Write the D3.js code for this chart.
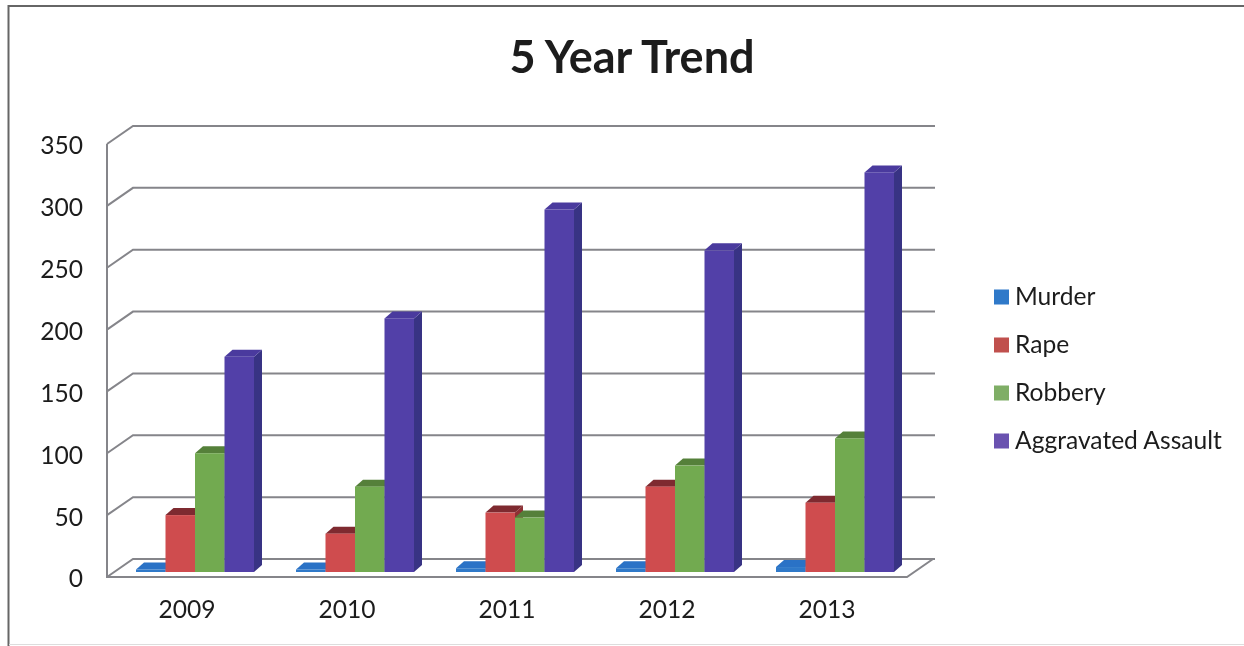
<!DOCTYPE html>
<html>
<head>
<meta charset="utf-8">
<script src="https://cdn.jsdelivr.net/npm/d3@7"></script>
<style>
  html, body { margin: 0; background: #fff; }
  svg { filter: blur(0.5px); }
  text { font-family: Lato, "Open Sans", sans-serif; fill: #1c1c1c; }
</style>
</head>
<body>
<svg id="chart" width="1244" height="646"></svg>
<script>
const years = ['2009', '2010', '2011', '2012', '2013'];
const seriesNames = ['Murder', 'Rape', 'Robbery', 'Aggravated Assault'];
const murder = [2, 2, 3, 3, 4];
const rape = [46, 31, 48, 69, 56];
const robbery = [96, 69, 44, 86, 108];
const assault = [174, 205, 293, 260, 323];
const seriesValues = [murder, rape, robbery, assault];
const yTicks = [0, 50, 100, 150, 200, 250, 300, 350];

const frontColors = ['#2f79c9', '#cf4c4e', '#72aa50', '#5240a8'];
const topColors = ['#2a72c6', '#7e2a30', '#55803a', '#4a3a9e'];
const sideColors = ['#1f5596', '#8f3034', '#4f7a38', '#383384'];

const svg = d3.select('#chart');

const left = 107, right = 907, front0 = 577, front350 = 144;
const dx = 26, dy = -18;      // wall depth
const barDx = 8, barDy = -7;  // bar depth
const barBase = 572;

const x = d3.scaleBand().domain(years).range([left, right]);
const xBar = d3.scaleBand().domain(seriesNames).range([29, 147]);
const y = d3.scaleLinear().domain([0, 350]).range([front0, front350]);
const barH = d3.scaleLinear().domain([0, 350]).range([0, front0 - front350]);

// outer frame
svg.append('path')
  .attr('d', 'M8.5,646V6H1244')
  .attr('fill', 'none')
  .attr('stroke', '#666')
  .attr('stroke-width', 2);
svg.append('path')
  .attr('d', 'M9,644.5H1244')
  .attr('fill', 'none')
  .attr('stroke', '#ddd')
  .attr('stroke-width', 1);

svg.append('text')
  .attr('x', 632).attr('y', 73)
  .attr('text-anchor', 'middle')
  .attr('font-size', 45)
  .attr('font-weight', 700)
  .text('5 Year Trend');

// walls and gridlines
const grid = svg.append('g').attr('fill', 'none').attr('stroke', '#85858a');
grid.selectAll('path.gridline')
  .data(yTicks)
  .join('path')
  .attr('class', 'gridline')
  .attr('stroke-width', 2)
  .attr('d', d => d3.line()([[left, y(d)], [left + dx, y(d) + dy], [right + dx + 2, y(d) + dy]]));

grid.append('path')
  .attr('stroke-width', 2)
  .attr('d', d3.line()([[left, y(350)], [left, y(0)], [right, y(0)], [right + dx, y(0) + dy]]));

// value axis labels
const yAxis = svg.append('g')
  .attr('transform', `translate(${left},2)`)
  .call(d3.axisLeft(y).tickValues(yTicks).tickSize(0).tickPadding(24));
yAxis.select('.domain').remove();
yAxis.selectAll('text').attr('font-size', 24.6).style('font-family', 'Lato, sans-serif').style('fill', '#1c1c1c');

// category axis labels
const xAxis = svg.append('g')
  .attr('transform', `translate(0,${front0})`)
  .call(d3.axisBottom(x).tickSize(0).tickPadding(24));
xAxis.select('.domain').remove();
xAxis.selectAll('text').attr('font-size', 24.6).style('font-family', 'Lato, sans-serif').style('fill', '#1c1c1c');

// bars, drawn series by series so the nearer faces overlap correctly
seriesNames.forEach((name, s) => {
  const g = svg.append('g').attr('class', 'series');
  const bw = xBar.bandwidth();
  const bx = i => x(years[i]) + xBar(name);
  const topY = v => barBase - barH(v);
  const cells = seriesValues[s].map((v, i) => ({ v, i }));

  g.selectAll('path.side').data(cells).join('path')
    .attr('class', 'side')
    .attr('fill', sideColors[s])
    .attr('d', d => d3.line()([
      [bx(d.i) + bw, topY(d.v)],
      [bx(d.i) + bw + barDx, topY(d.v) + barDy],
      [bx(d.i) + bw + barDx, barBase + barDy],
      [bx(d.i) + bw, barBase]
    ]) + 'Z');

  g.selectAll('path.top').data(cells).join('path')
    .attr('class', 'top')
    .attr('fill', topColors[s])
    .attr('d', d => d3.line()([
      [bx(d.i), topY(d.v)],
      [bx(d.i) + barDx, topY(d.v) + barDy],
      [bx(d.i) + bw + barDx, topY(d.v) + barDy],
      [bx(d.i) + bw, topY(d.v)]
    ]) + 'Z');

  g.selectAll('rect.front').data(cells).join('rect')
    .attr('class', 'front')
    .attr('fill', frontColors[s])
    .attr('x', d => bx(d.i))
    .attr('y', d => topY(d.v))
    .attr('width', bw)
    .attr('height', d => barH(d.v));
});

// legend
const legendY = d3.scalePoint().domain(seriesNames).range([297, 441]);
const legend = svg.append('g').selectAll('g').data(seriesNames).join('g')
  .attr('transform', d => `translate(994,${legendY(d)})`);
legend.append('rect')
  .attr('y', -7.5).attr('width', 15).attr('height', 15)
  .attr('fill', (d, i) => ['#2f79c9', '#c0504d', '#7fae66', '#6a52b0'][i]);
legend.append('text')
  .attr('x', 21).attr('y', 8)
  .attr('font-size', 24.6)
  .text(d => d);
</script>
</body>
</html>
